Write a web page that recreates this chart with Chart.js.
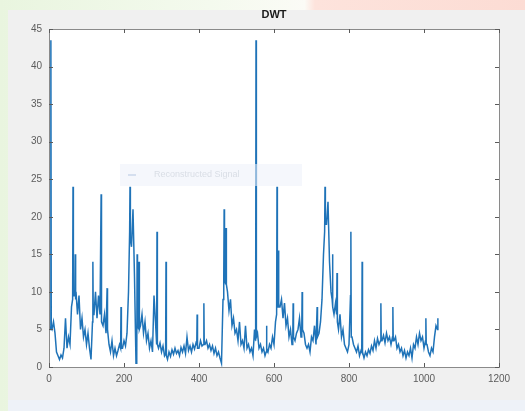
<!DOCTYPE html>
<html>
<head>
<meta charset="utf-8">
<script src="https://cdn.jsdelivr.net/npm/chart.js@4.4.1/dist/chart.umd.min.js"></script>
<style>
  html, body { margin: 0; padding: 0; }
  body {
    width: 525px; height: 411px; overflow: hidden; position: relative;
    background: linear-gradient(90deg, #e9f5df 0%, #f4faee 40%, #fbfbf6 58%, #fde3dc 60%, #fcdcd4 100%);
  }
  #fig { position: absolute; left: 8px; top: 10px; width: 517px; height: 390px; background: #f0f0f0; }
  #bottom { position: absolute; left: 8px; top: 400px; width: 517px; height: 11px; background: #eef2f8; }
  #wrap { position: absolute; left: 0; top: 0; width: 525px; height: 411px; }
</style>
</head>
<body>
<div id="fig"></div>
<div id="bottom"></div>
<div id="wrap"><canvas id="c" width="525" height="411"></canvas></div>
<script>
// Chart data
const chartTitle = "DWT";
const seriesName = "Reconstructed Signal";
const sampleStep = 4; // samples between stored base values (x = sample index)
const xTicks = [0, 200, 400, 600, 800, 1000, 1200];
const yTicks = [0, 5, 10, 15, 20, 25, 30, 35, 40, 45];

// base signal, one value every 4 samples
const baseValues = [
  5.5, 5, 5, 6, 4.5, 2, 1.5, 1, 1.6, 1.2, 2.5, 6.5, 2.5, 4, 3, 8, 9, 9.5, 10, 7,
  9.5, 5, 6.5, 4, 5, 3, 4.5, 2.5, 1, 6, 7, 10, 6.5, 9.5, 7, 6, 5.5, 7, 4.5, 5,
  3, 2, 3.5, 1.5, 2.5, 1.5, 2.2, 3, 2.5, 2.5, 3.5, 2.8, 4.5, 10, 18, 16, 21, 12, 0.5, 6,
  5, 5.5, 7, 4.5, 6, 3.5, 4.5, 2.5, 3.5, 2, 9.5, 6, 3, 2.5, 3.2, 2, 2.8, 1.5, 1.8, 1,
  2, 1.4, 2.3, 1.7, 2.5, 1.8, 2.2, 1.5, 2.6, 2, 2.8, 1.8, 4, 2.2, 2.8, 2, 3, 2.4, 3.2, 2.5,
  2.5, 3.5, 2.8, 3, 3, 3.5, 2.5, 3, 2.2, 2.8, 1.8, 2.5, 1.5, 2, 1.2, 0.5, 9, 12, 11, 10,
  7.5, 9, 5.5, 6.5, 4.5, 5, 3.5, 6, 3, 3.5, 2.5, 5.5, 2.5, 3, 2, 2.5, 1.5, 5, 4, 4.5,
  2.5, 3, 2, 2.5, 1.5, 2.5, 2, 3, 2.5, 4, 3, 6, 7, 8, 8, 9, 6.5, 8.5, 5.5, 6.5,
  4, 5, 3, 4, 3.5, 4.5, 5, 6.5, 4, 5, 4.5, 3, 2.5, 3, 2, 4, 3.5, 5.5, 3, 4,
  4.5, 6, 9, 15, 20, 19, 22, 14, 10, 9, 7, 8.5, 7, 5, 7, 4, 5, 3, 2.5, 2,
  3, 9.5, 4, 3, 2.5, 2, 2.8, 1.5, 2.2, 2, 1.2, 2, 1.5, 2.3, 1.8, 2.8, 2.2, 3.5, 2.5, 3.8,
  3, 3.5, 3.5, 4.2, 3.2, 4.5, 3.5, 4, 3, 4, 3.5, 4, 2.5, 3, 2, 2.5, 1.5, 2.2, 1.2, 2,
  1.5, 2.5, 1.2, 3, 2.5, 4, 3, 4.5, 3.5, 4, 2.5, 3.5, 3, 2, 1.5, 2.5, 2, 4, 5.5, 5
];

// narrow spikes (sample index and value)
const spikeX = [
  4, 5, 6, 63, 64, 65, 69, 70, 71, 116, 117, 118, 138, 139, 140, 154, 155, 156,
  191, 192, 193, 215, 216, 217, 234, 235, 236, 239, 240, 241, 287, 288, 289, 311, 312, 313,
  394, 395, 396, 412, 413, 414, 466, 467, 468, 471, 472, 473, 551, 552, 553, 579, 580, 581,
  607, 608, 609, 611, 612, 613, 650, 651, 652, 674, 675, 676, 714, 715, 716, 735, 736, 737,
  755, 756, 757, 767, 768, 769, 804, 805, 806, 834, 835, 836, 884, 885, 886, 916, 917, 918,
  1004, 1005, 1006, 1037
];
const spikeY = [
  5, 43.5, 5.2, 9, 24, 9.5, 10, 15, 9, 6, 14, 7, 7, 23, 6, 4.5, 10.5, 5,
  2.5, 8, 2.5, 18, 24, 17, 1, 15, 6, 5, 14, 5, 3, 18, 3, 1.8, 14, 1.5,
  3, 7, 2.5, 3, 8.5, 3, 12, 21, 12, 11, 18.5, 11, 3.5, 43.5, 4, 2, 5.5, 2.5,
  7, 24, 8, 8, 15.5, 8, 3.5, 8.5, 4, 5, 10, 5, 3, 8, 4, 18, 24, 19,
  9, 15, 8, 7, 12.5, 6, 9.5, 18, 4, 2, 14, 2, 3.5, 8.5, 3.5, 4, 8, 3.5,
  3.5, 6.5, 3, 6.5
];

const merged = new Map();
baseValues.forEach((v, i) => merged.set(i * sampleStep, v));
spikeX.forEach((x, i) => merged.set(x, spikeY[i]));
const points = [...merged.entries()].sort((a, b) => a[0] - b[0]).map(([x, y]) => ({ x, y }));

const frameColor = "#8a8a8a";
const fontFam = "'Liberation Sans', Arial, sans-serif";

const plotBg = {
  id: "plotBg",
  beforeDraw(chart) {
    const { ctx, chartArea: a } = chart;
    ctx.save();
    ctx.fillStyle = "#ffffff";
    ctx.fillRect(a.left, a.top, a.right - a.left, a.bottom - a.top);
    ctx.restore();
  },
  afterDraw(chart) {
    const { ctx, chartArea: a, scales } = chart;
    ctx.save();
    ctx.strokeStyle = frameColor;
    ctx.lineWidth = 1;
    ctx.strokeRect(Math.round(a.left) + 0.5, Math.round(a.top) + 0.5, Math.round(a.right - a.left), Math.round(a.bottom - a.top));
    ctx.strokeStyle = "#5a5a5a";
    const tl = 4;
    ctx.beginPath();
    xTicks.forEach(t => {
      const px = Math.round(scales.x.getPixelForValue(t)) + 0.5;
      ctx.moveTo(px, a.bottom); ctx.lineTo(px, a.bottom - tl);
      ctx.moveTo(px, a.top); ctx.lineTo(px, a.top + tl);
    });
    yTicks.forEach(t => {
      const py = Math.round(scales.y.getPixelForValue(t)) + 0.5;
      ctx.moveTo(a.left, py); ctx.lineTo(a.left + tl, py);
      ctx.moveTo(a.right, py); ctx.lineTo(a.right - tl, py);
    });
    ctx.stroke();
    // title
    ctx.fillStyle = "#1a1a1a";
    ctx.font = "bold 11px " + fontFam;
    ctx.textAlign = "center";
    ctx.textBaseline = "middle";
    ctx.fillText(chartTitle, (a.left + a.right) / 2, 15);
    // faint legend box
    ctx.fillStyle = "rgba(236,241,250,0.55)";
    ctx.fillRect(120, 164, 182, 22);
    ctx.fillStyle = "rgba(120,150,200,0.25)";
    ctx.fillRect(128, 174, 8, 2);
    ctx.font = "9px " + fontFam;
    ctx.fillStyle = "rgba(120,130,150,0.22)";
    ctx.textAlign = "left";
    ctx.fillText(seriesName, 154, 175);
    ctx.restore();
  }
};

new Chart(document.getElementById("c"), {
  type: "line",
  data: {
    datasets: [{
      label: seriesName,
      data: points,
      borderColor: "#1f73b8",
      borderWidth: 1.5,
      pointRadius: 0,
      tension: 0,
      fill: false
    }]
  },
  options: {
    responsive: false,
    animation: false,
    devicePixelRatio: 1,
    layout: { padding: { left: 0, right: 26, top: 29, bottom: 0 } },
    plugins: {
      legend: { display: false },
      tooltip: { enabled: false },
      title: { display: false }
    },
    scales: {
      x: {
        type: "linear",
        min: 0, max: 1200,
        afterBuildTicks(scale) { scale.ticks = xTicks.map(v => ({ value: v })); },
        afterFit(scale) { scale.height = 44; },
        grid: { display: false, drawTicks: false },
        border: { display: true, color: frameColor },
        ticks: {
          color: "#5c5c5c", padding: 6,
          callback: v => String(v),
          font: { family: fontFam, size: 10 }
        }
      },
      y: {
        type: "linear",
        min: 0, max: 45,
        afterBuildTicks(scale) { scale.ticks = yTicks.map(v => ({ value: v })); },
        afterFit(scale) { scale.width = 49; },
        grid: { display: false, drawTicks: false },
        border: { display: true, color: frameColor },
        ticks: {
          color: "#5c5c5c", padding: 7,
          callback: v => String(v),
          font: { family: fontFam, size: 10 }
        }
      }
    }
  },
  plugins: [plotBg]
});
</script>
</body>
</html>
